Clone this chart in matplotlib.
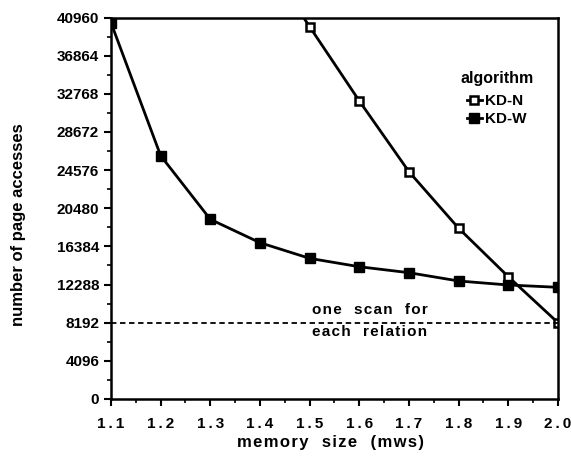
import matplotlib
matplotlib.use("Agg")
import matplotlib.pyplot as plt
from matplotlib.ticker import MultipleLocator

plt.rcParams["font.family"] = ["Liberation Sans", "DejaVu Sans"]
plt.rcParams["font.weight"] = "bold"

# data
mem = [1.1, 1.2, 1.3, 1.4, 1.5, 1.6, 1.7, 1.8, 1.9, 2.0]
kd_w = [40400, 26120, 19290, 16780, 15100, 14200, 13560, 12670, 12240, 11990]
mem_n = [1.4, 1.5, 1.6, 1.7, 1.8, 1.9, 2.0]
kd_n = [48000, 39970, 32000, 24400, 18330, 13130, 8192]
scan_level = 8192
yticks = [0, 4096, 8192, 12288, 16384, 20480, 24576, 28672, 32768, 36864, 40960]


def spaced(s):
    # the scanned figure uses loosely tracked lettering
    return "\u200a".join(s)


fig = plt.figure(figsize=(5.71, 4.62), dpi=100)
ax = fig.add_axes([0.1944, 0.1364, 0.7828, 0.8257])

ax.plot(mem_n, kd_n, color="black", lw=2, marker="s", ms=5.5,
        mfc="white", mec="black", mew=1.8, label="KD-N")
ax.plot(mem, kd_w, color="black", lw=2, marker="s", ms=7,
        mfc="black", mec="black", label="KD-W")
ax.axhline(scan_level, color="black", lw=1.3, ls=(0, (3, 2)))

ax.text(1.505, scan_level + 600, spaced("one  scan  for"), fontsize=11,
        fontweight="bold", va="bottom")
ax.text(1.505, scan_level - 250, spaced("each  relation"), fontsize=11,
        fontweight="bold", va="top")

ax.set_xlim(1.1, 2.0)
ax.set_ylim(0, 40960)
ax.set_yticks(yticks)
ax.yaxis.set_minor_locator(MultipleLocator(2048))
ax.xaxis.set_major_locator(MultipleLocator(0.1))
ax.xaxis.set_minor_locator(MultipleLocator(0.05))
ax.set_xticklabels([f"{v:.1f}".replace(".", "\u2009.\u2009") for v in ax.get_xticks()])
ax.tick_params(which="major", length=5, width=1.5, labelsize=11)
ax.tick_params(which="minor", length=3, width=1.2)
ax.tick_params(axis="x", pad=8)
for s in ax.spines.values():
    s.set_linewidth(1.8)

ax.set_xlabel(spaced("memory  size  (mws)"), fontsize=12, fontweight="bold")
ax.set_ylabel("number of page accesses", fontsize=12, fontweight="bold")
ax.xaxis.set_label_coords(0.49, -0.095)
ax.yaxis.set_label_coords(-0.19, 0.456)

leg = ax.legend(title="algorithm", loc="upper right", frameon=False,
                bbox_to_anchor=(0.945, 0.86), borderpad=0, borderaxespad=0,
                handlelength=1.0, handletextpad=0.2, fontsize=11,
                labelspacing=0.25, title_fontsize=11.5)
leg.get_title().set_fontweight("bold")
leg._legend_box.sep = 6
leg._legend_box.align = "center"

fig.savefig("out.png", dpi=100)
